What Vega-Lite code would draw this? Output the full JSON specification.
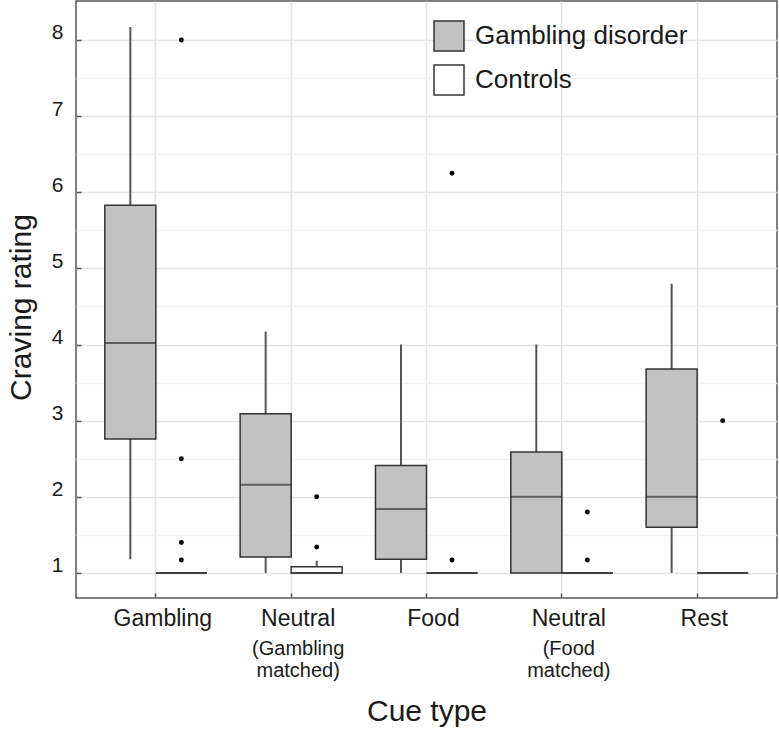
{
  "$schema": "https://vega.github.io/schema/vega-lite/v6.json",
  "width": 701,
  "height": 597,
  "autosize": {"type": "none"},
  "padding": {"left": 76, "top": 1, "right": 2, "bottom": 133},
  "background": "white",
  "config": {
    "view": {"stroke": "#555", "strokeWidth": 1.5},
    "font": "Liberation Sans"
  },
  "datasets": {
    "boxes": [
      {"cue": "Gambling", "group": "Gambling disorder", "lo": 1.18, "q1": 2.76, "med": 4.02, "q3": 5.83, "hi": 8.17},
      {"cue": "Neutral (Gambling matched)", "group": "Gambling disorder", "lo": 1.0, "q1": 1.21, "med": 2.16, "q3": 3.09, "hi": 4.17},
      {"cue": "Food", "group": "Gambling disorder", "lo": 1.0, "q1": 1.18, "med": 1.84, "q3": 2.41, "hi": 4.0},
      {"cue": "Neutral (Food matched)", "group": "Gambling disorder", "lo": 1.0, "q1": 1.0, "med": 2.0, "q3": 2.59, "hi": 4.0},
      {"cue": "Rest", "group": "Gambling disorder", "lo": 1.0, "q1": 1.6, "med": 2.0, "q3": 3.68, "hi": 4.8},
      {"cue": "Gambling", "group": "Controls", "lo": 1.0, "q1": 1.0, "med": 1.0, "q3": 1.0, "hi": 1.0},
      {"cue": "Neutral (Gambling matched)", "group": "Controls", "lo": 1.0, "q1": 1.0, "med": 1.0, "q3": 1.08, "hi": 1.16},
      {"cue": "Food", "group": "Controls", "lo": 1.0, "q1": 1.0, "med": 1.0, "q3": 1.0, "hi": 1.0},
      {"cue": "Neutral (Food matched)", "group": "Controls", "lo": 1.0, "q1": 1.0, "med": 1.0, "q3": 1.0, "hi": 1.0},
      {"cue": "Rest", "group": "Controls", "lo": 1.0, "q1": 1.0, "med": 1.0, "q3": 1.0, "hi": 1.0}
    ],
    "outliers": [
      {"cue": "Gambling", "group": "Controls", "val": 8.0},
      {"cue": "Gambling", "group": "Controls", "val": 2.5},
      {"cue": "Gambling", "group": "Controls", "val": 1.4},
      {"cue": "Gambling", "group": "Controls", "val": 1.17},
      {"cue": "Neutral (Gambling matched)", "group": "Controls", "val": 2.0},
      {"cue": "Neutral (Gambling matched)", "group": "Controls", "val": 1.34},
      {"cue": "Food", "group": "Controls", "val": 6.25},
      {"cue": "Food", "group": "Controls", "val": 1.17},
      {"cue": "Neutral (Food matched)", "group": "Controls", "val": 1.8},
      {"cue": "Neutral (Food matched)", "group": "Controls", "val": 1.17},
      {"cue": "Rest", "group": "Controls", "val": 3.0}
    ]
  },
  "resolve": {"axis": {"x": "independent"}},
  "layer": [
    {
      "data": {"name": "boxes"},
      "mark": {"type": "rule", "stroke": "#555", "strokeWidth": 2},
      "encoding": {
        "x": {
          "field": "cue", "type": "nominal",
          "sort": ["Gambling", "Neutral (Gambling matched)", "Food", "Neutral (Food matched)", "Rest"],
          "scale": {"paddingInner": 0, "paddingOuter": 0.09},
          "axis": {
            "orient": "bottom",
            "labelExpr": "datum.value == 'Neutral (Gambling matched)' || datum.value == 'Neutral (Food matched)' ? 'Neutral' : datum.value",
            "labelFontSize": 23, "labelColor": "#1a1a1a", "labelOffset": 7, "labelPadding": 14, "labelAngle": 0,
            "tickSize": -5, "tickColor": "#555", "tickWidth": 1.5,
            "grid": true, "gridColor": "#e3e3e3", "gridWidth": 1.5,
            "domain": false, "title": null, "bandPosition": 0.5
          }
        },
        "xOffset": {"field": "group", "type": "nominal", "sort": ["Gambling disorder", "Controls"], "scale": {"paddingInner": 0, "paddingOuter": 0.326}},
        "y": {
          "field": "lo", "type": "quantitative",
          "scale": {"domain": [0.671, 8.512], "nice": false, "zero": false},
          "axis": {
            "values": [1, 1.5, 2, 2.5, 3, 3.5, 4, 4.5, 5, 5.5, 6, 6.5, 7, 7.5, 8],
            "labelExpr": "datum.value % 1 == 0 ? format(datum.value, 'd') : ''",
            "labelFontSize": 21, "labelColor": "#1a1a1a", "labelOffset": -7, "labelPadding": 18, "labelOverlap": false,
            "tickSize": -5, "tickWidth": 1.5,
            "tickColor": {"condition": {"test": "datum.value % 1 != 0", "value": "transparent"}, "value": "#555"},
            "grid": true, "gridWidth": 1.5,
            "gridColor": {"condition": {"test": "datum.value % 1 != 0", "value": "#f3f3f3"}, "value": "#e3e3e3"},
            "domain": false,
            "title": "Craving rating", "titleFontSize": 30, "titleFontWeight": "normal", "titleColor": "#1a1a1a", "titlePadding": 15, "titleY": 306
          }
        },
        "y2": {"field": "hi"}
      }
    },
    {
      "data": {"name": "boxes"},
      "mark": {"type": "bar", "stroke": "#333", "strokeWidth": 1.5, "fillOpacity": 1},
      "encoding": {
        "x": {
          "field": "cue", "type": "nominal",
          "sort": ["Gambling", "Neutral (Gambling matched)", "Food", "Neutral (Food matched)", "Rest"],
          "axis": {
            "orient": "bottom",
            "labelExpr": "datum.value == 'Neutral (Gambling matched)' ? ['(Gambling', 'matched)'] : datum.value == 'Neutral (Food matched)' ? ['(Food', 'matched)'] : ''",
            "labelFontSize": 20, "labelLineHeight": 22, "labelColor": "#1a1a1a", "labelOffset": 7, "labelPadding": 40, "labelAngle": 0,
            "ticks": false, "grid": false, "domain": false,
            "title": "Cue type", "titleFontSize": 30, "titleFontWeight": "normal", "titleColor": "#1a1a1a", "titlePadding": 16
          }
        },
        "xOffset": {"field": "group", "type": "nominal", "sort": ["Gambling disorder", "Controls"]},
        "y": {"field": "q1", "type": "quantitative"},
        "y2": {"field": "q3"},
        "fill": {
          "field": "group", "type": "nominal",
          "scale": {"domain": ["Gambling disorder", "Controls"], "range": ["#c2c2c2", "#ffffff"]},
          "legend": {
            "orient": "none", "legendX": 357, "legendY": 19, "title": null,
            "symbolType": "square", "symbolSize": 900, "symbolStrokeColor": "#333", "symbolStrokeWidth": 1.5,
            "labelFontSize": 26, "labelColor": "#1a1a1a", "labelOffset": 10, "labelLimit": 400, "rowPadding": 8
          }
        }
      }
    },
    {
      "data": {"name": "boxes"},
      "mark": {"type": "tick", "color": "#333", "thickness": 2, "size": 51},
      "encoding": {
        "x": {"field": "cue", "type": "nominal", "sort": ["Gambling", "Neutral (Gambling matched)", "Food", "Neutral (Food matched)", "Rest"], "axis": null},
        "xOffset": {"field": "group", "type": "nominal", "sort": ["Gambling disorder", "Controls"]},
        "y": {"field": "med", "type": "quantitative"}
      }
    },
    {
      "data": {"name": "outliers"},
      "mark": {"type": "point", "filled": true, "color": "black", "size": 24, "opacity": 1},
      "encoding": {
        "x": {"field": "cue", "type": "nominal", "sort": ["Gambling", "Neutral (Gambling matched)", "Food", "Neutral (Food matched)", "Rest"], "axis": null},
        "xOffset": {"field": "group", "type": "nominal", "sort": ["Gambling disorder", "Controls"]},
        "y": {"field": "val", "type": "quantitative"}
      }
    }
  ]
}
